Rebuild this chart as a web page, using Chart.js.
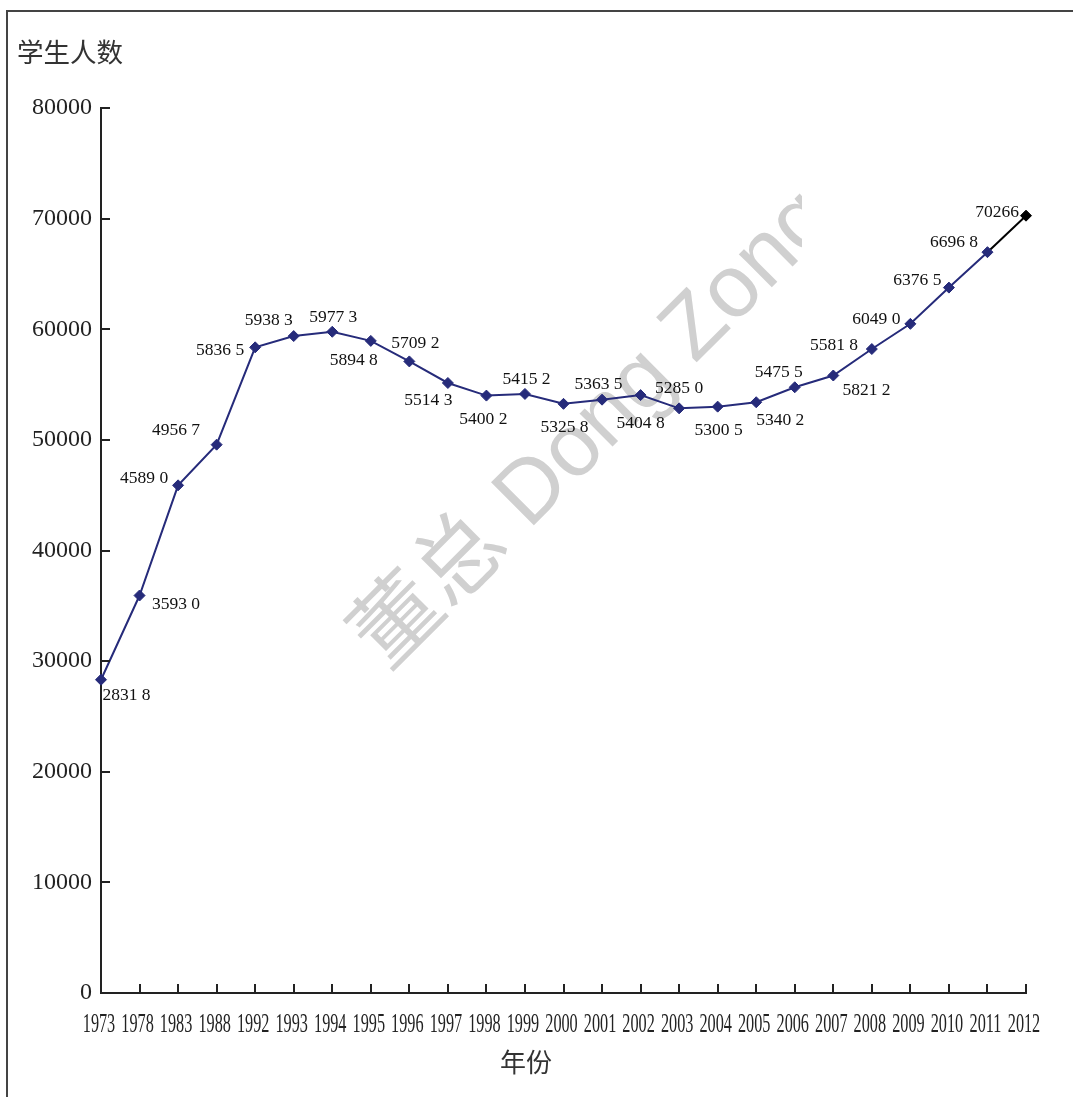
<!DOCTYPE html>
<html>
<head>
<meta charset="utf-8">
<script src="https://cdn.jsdelivr.net/npm/chart.js@4.4.0/dist/chart.umd.min.js"></script>
<style>
  html, body { margin: 0; padding: 0; background: #ffffff; }
  #wrap { width: 1073px; height: 1097px; position: relative; }
</style>
</head>
<body>
<div id="wrap"><canvas id="c" width="1073" height="1097"></canvas></div>
<script>
// ---- data ----
const categories = ['1973','1978','1983','1988','1992','1993','1994','1995','1996','1997','1998','1999',
  '2000','2001','2002','2003','2004','2005','2006','2007','2008','2009','2010','2011','2012'];
const students = [28318, 35930, 45890, 49567, 58365, 59383, 59773, 58948, 57092, 55143, 54002, 54152,
  53258, 53635, 54048, 52850, 53005, 53402, 54755, 55818, 58212, 60490, 63765, 66968, 70266];
const yTickValues = [0, 10000, 20000, 30000, 40000, 50000, 60000, 70000, 80000];
const yTitle = '学生人数';
const xTitle = '年份';
const watermarkText = '董总 Dong Zong';

// ---- label placement (offset of label centre from its point, px) ----
const labelOffsets = [
  [25.5, 14], [36.5, 7], [-34, -8], [-40.6, -15.6], [-35, 2], [-25, -17.5], [1, -16], [-17, 18],
  [6, -19], [-19.5, 16], [-3, 22], [1.6, -16.4], [1, 22], [-3.5, -17], [0, 27], [0, -21],
  [1, 22], [24, 17], [-16, -16], [0.7, -31.5], [-5.3, 39.5], [-34, -6], [-31.5, -8.5], [-33.5, -11], [-29, -4.7]
];

const LINE = '#262b7a';
const AXIS = '#222222';
const last = students.length - 1;

function labelText(v, i) {
  const s = String(v);
  return i === last ? s : s.slice(0, 4) + ' ' + s.slice(4);
}

const decor = {
  id: 'decor',
  beforeDatasetsDraw(chart) {
    const ctx = chart.ctx;
    // watermark
    ctx.save();
    ctx.beginPath();
    ctx.rect(0, 0, 802, 1097);
    ctx.clip();
    ctx.translate(387, 672);
    ctx.rotate(-Math.PI / 4);
    ctx.fillStyle = 'rgb(208,208,208)';
    ctx.font = '88px "Liberation Sans", "Noto Sans CJK SC", sans-serif';
    ctx.textAlign = 'left';
    ctx.textBaseline = 'alphabetic';
    ctx.fillText(watermarkText, 0, 0);
    ctx.restore();
  },
  afterDatasetsDraw(chart) {
    const ctx = chart.ctx;
    const xs = chart.scales.x, ys = chart.scales.y;
    ctx.save();
    // frame (left + top)
    ctx.strokeStyle = '#444';
    ctx.lineWidth = 2;
    ctx.beginPath();
    ctx.moveTo(7, 1097); ctx.lineTo(7, 11); ctx.lineTo(1073, 11);
    ctx.stroke();

    // inward tick marks
    ctx.strokeStyle = AXIS;
    ctx.lineWidth = 2;
    ctx.beginPath();
    ys.ticks.forEach(t => {
      const y = Math.round(ys.getPixelForValue(t.value));
      ctx.moveTo(xs.left, y); ctx.lineTo(xs.left + 9, y);
    });
    xs.ticks.forEach((t, i) => {
      const x = Math.round(xs.getPixelForTick(i));
      ctx.moveTo(x, ys.bottom); ctx.lineTo(x, ys.bottom - 9);
    });
    ctx.stroke();

    // condensed x tick labels
    ctx.fillStyle = AXIS;
    ctx.font = '28px "Liberation Serif", serif';
    ctx.textAlign = 'center';
    ctx.textBaseline = 'alphabetic';
    categories.forEach((c, i) => {
      const x = xs.getPixelForTick(i);
      ctx.save();
      ctx.translate(x - 2, 1032);
      ctx.scale(0.58, 1);
      ctx.fillText(c, 0, 0);
      ctx.restore();
    });

    // data labels
    ctx.fillStyle = '#111';
    ctx.font = '17.5px "Liberation Serif", serif';
    const meta = chart.getDatasetMeta(0);
    meta.data.forEach((pt, i) => {
      const off = labelOffsets[i];
      ctx.fillText(labelText(students[i], i), pt.x + off[0], pt.y + off[1] + 6);
    });

    // titles
    ctx.fillStyle = '#333';
    ctx.font = '26.5px "Noto Sans CJK SC", sans-serif';
    ctx.textAlign = 'left';
    ctx.textBaseline = 'middle';
    ctx.fillText(yTitle, 17, 52);
    ctx.textAlign = 'center';
    ctx.font = '26px "Noto Sans CJK SC", sans-serif';
    ctx.fillText(xTitle, 526, 1062);
    ctx.restore();
  }
};

new Chart(document.getElementById('c'), {
  type: 'line',
  data: {
    labels: categories,
    datasets: [{
      data: students,
      borderColor: LINE,
      borderWidth: 2,
      tension: 0,
      pointStyle: 'rectRot',
      pointRadius: 5.5,
      pointBorderWidth: 1,
      pointBackgroundColor: students.map((v, i) => i === last ? '#000' : LINE),
      pointBorderColor: students.map((v, i) => i === last ? '#000' : LINE),
      segment: {
        borderColor: c => c.p1DataIndex === last ? '#000' : undefined
      }
    }]
  },
  options: {
    responsive: false,
    animation: false,
    events: [],
    layout: { padding: { left: 0, top: 108, right: 47, bottom: 104 } },
    plugins: { legend: { display: false }, tooltip: { enabled: false } },
    scales: {
      x: {
        type: 'category',
        offset: false,
        grid: { display: false, drawTicks: false },
        border: { display: true, color: AXIS, width: 2 },
        ticks: { display: false },
        afterFit: s => { s.height = 0; }
      },
      y: {
        min: 0,
        max: 80000,
        afterBuildTicks: s => { s.ticks = yTickValues.map(v => ({ value: v })); },
        grid: { display: false, drawTicks: false },
        border: { display: true, color: AXIS, width: 2 },
        ticks: {
          padding: 9,
          color: AXIS,
          font: { family: '"Liberation Serif", serif', size: 24 },
          callback: v => String(v)
        },
        afterFit: s => { s.width = 101; }
      }
    }
  },
  plugins: [decor]
});
</script>
</body>
</html>
